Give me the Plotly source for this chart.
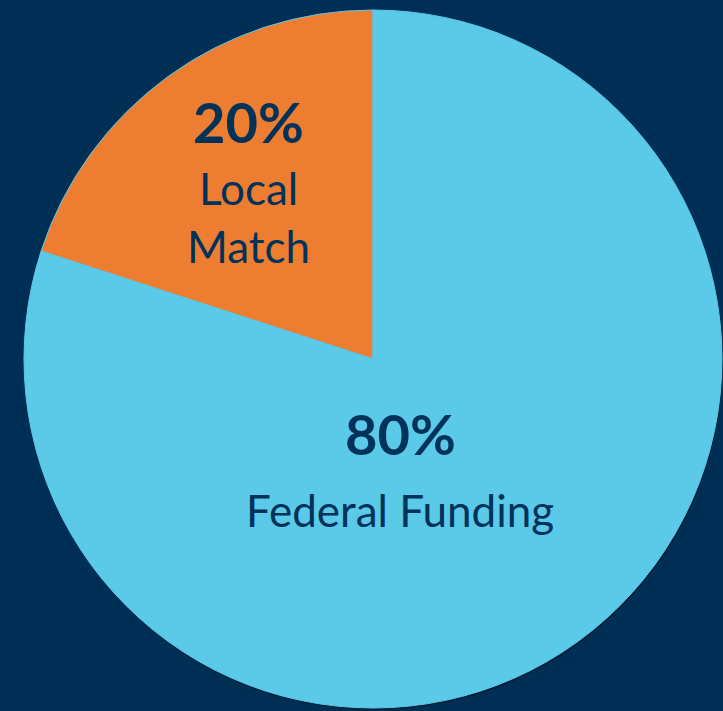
import plotly.graph_objects as go

categories = ["Local Match", "Federal Funding"]
values = [20, 80]
pct_labels = ["20%", "80%"]
name_lines = [["Local", "Match"], ["Federal Funding"]]

BG = "#002F56"
BLUE = "#5BC9E8"
ORANGE = "#ED7D31"
TEXT = "#00325A"

W, H = 723, 711
cx, cy, r = 373, 359, 349

def dom(dx, dy):
    return dict(x=[max(0, (cx - r + dx) / W), min(1, (cx + r + dx) / W)],
                y=[max(0, 1 - (cy + r + dy) / H), min(1, 1 - (cy - r + dy) / H)])

fig = go.Figure()
# subtle shadow
fig.add_trace(go.Pie(
    labels=categories, values=values, sort=False, direction="clockwise",
    rotation=-72,
    marker=dict(colors=["rgba(0,0,0,0.35)"] * 2, line=dict(width=0)),
    textinfo="none", hoverinfo="skip", showlegend=False,
    domain=dom(1, 2),
))
fig.add_trace(go.Pie(
    labels=categories, values=values, sort=False, direction="clockwise",
    rotation=-72,
    marker=dict(colors=[ORANGE, BLUE], line=dict(color=BLUE, width=1)),
    textinfo="none", showlegend=False,
    domain=dom(0, 0),
))

FONT = "Lato"
pos = [(248, [121, 188, 246]), (400, [433, 510])]
for i in range(len(categories)):
    x, ys = pos[i]
    lines = [pct_labels[i]] + name_lines[i]
    for j, t in enumerate(lines):
        bold = j == 0
        fig.add_annotation(
            x=x / W, y=1 - ys[j] / H, xref="paper", yref="paper",
            xanchor="center", yanchor="middle", showarrow=False,
            text=f"<b>{t}</b>" if bold else t,
            font=dict(family=FONT, size=56 if bold else 44, color=TEXT),
        )

fig.update_layout(
    width=W, height=H, margin=dict(l=0, r=0, t=0, b=0),
    paper_bgcolor=BG, plot_bgcolor=BG,
)
fig.write_html("out.html", config={"displayModeBar": False},
               post_script="document.body.style.margin='0';")
